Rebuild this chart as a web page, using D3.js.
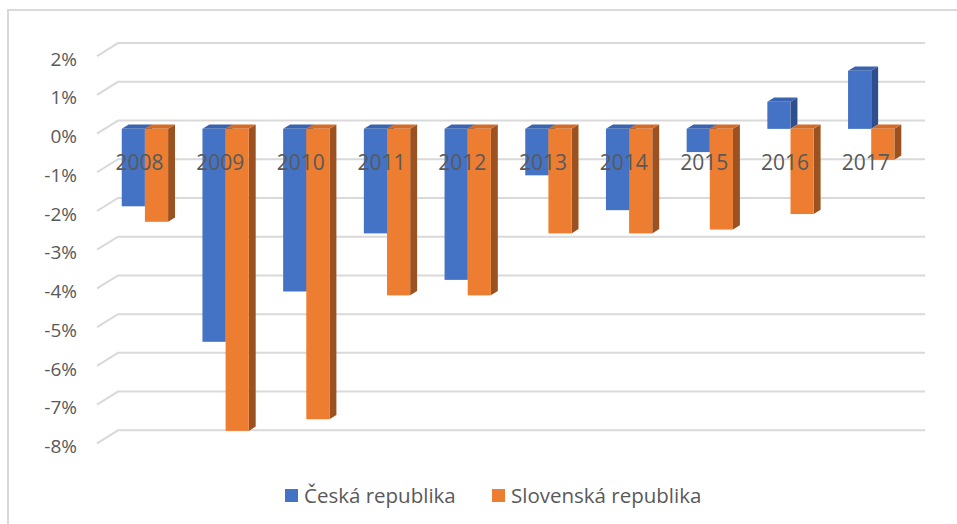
<!DOCTYPE html>
<html lang="cs">
<head>
    <meta charset="UTF-8">
    <title>Česká a Slovenská republika</title>
    <script src="https://d3js.org/d3.v7.min.js"></script>
    <style>
        body {
            margin: 0;
            background: #ffffff;
            font-family: "Open Sans", Arial, sans-serif;
        }
        .tick-label {
            font-size: 19px;
            fill: #595959;
        }
        .cat-label {
            font-size: 21px;
            fill: #595959;
        }
        .legend-label {
            font-size: 20.5px;
            fill: #595959;
        }
    </style>
</head>
<body>
<svg id="chart"></svg>

<script>
    const width = 957, height = 524;

    // data
    const years = ["2008", "2009", "2010", "2011", "2012", "2013", "2014", "2015", "2016", "2017"];
    const seriesNames = ["Česká republika", "Slovenská republika"];
    const czValues = [-2.0, -5.5, -4.2, -2.7, -3.9, -1.2, -2.1, -0.6, 0.7, 1.5];
    const skValues = [-2.4, -7.8, -7.5, -4.3, -4.3, -2.7, -2.7, -2.6, -2.2, -0.8];
    const tickValues = [2, 1, 0, -1, -2, -3, -4, -5, -6, -7, -8];

    const colors = ["#4472C4", "#ED7D31"];
    const topColors = ["#3B64B0", "#D46C27"];
    const sideColors = ["#2E4F8C", "#9C5220"];

    const svg = d3.select("#chart")
        .attr("width", width)
        .attr("height", height);

    // frame
    svg.append("path")
        .attr("d", "M8,524 V10 H957")
        .attr("fill", "none")
        .attr("stroke", "#d9d9d9")
        .attr("stroke-width", 2);

    // back wall scales
    const x = d3.scaleBand()
        .domain(years)
        .range([118, 925])
        .paddingInner(0.426)
        .paddingOuter(0.213);

    const xs = d3.scaleBand()
        .domain(seriesNames)
        .range([0, x.bandwidth()]);

    const y = d3.scaleLinear()
        .domain([-8, 2])
        .range([430.3, 43.1]);

    // depth of the floor, from back wall to the front edge
    const depth = { dx: -21, dy: 13 };
    const frontF = 0.64, backF = 0.31;
    const fx = depth.dx * frontF, fy = depth.dy * frontF;
    const sx = depth.dx * (backF - frontF), sy = depth.dy * (backF - frontF);

    // gridlines: back wall + side wall
    const grid = svg.append("g");
    tickValues.forEach(v => {
        grid.append("path")
            .attr("d", `M${118 + depth.dx},${y(v) + depth.dy} L118,${y(v)} H925`)
            .attr("fill", "none")
            .attr("stroke", "#d9d9d9")
            .attr("stroke-width", 2);
    });

    // y tick labels
    svg.append("g")
        .selectAll("text")
        .data(tickValues)
        .join("text")
        .attr("class", "tick-label")
        .attr("x", 77)
        .attr("y", d => y(d) + depth.dy + 3)
        .attr("dy", "0.35em")
        .attr("text-anchor", "end")
        .text(d => d + "%");

    // bars
    const bars = svg.append("g");
    years.forEach((yr, i) => {
        [czValues[i], skValues[i]].forEach((v, s) => {
            const x0 = x(yr) + xs(seriesNames[s]) + fx;
            const w = xs.bandwidth();
            const yTop = Math.min(y(v), y(0)) + fy;
            const yBot = Math.max(y(v), y(0)) + fy;
            const g = bars.append("g");
            // side face
            g.append("path")
                .attr("d", `M${x0 + w},${yTop} L${x0 + w + sx},${yTop + sy} L${x0 + w + sx},${yBot + sy} L${x0 + w},${yBot} Z`)
                .attr("fill", sideColors[s]);
            // top face
            g.append("path")
                .attr("d", `M${x0},${yTop} L${x0 + sx},${yTop + sy} L${x0 + w + sx},${yTop + sy} L${x0 + w},${yTop} Z`)
                .attr("fill", topColors[s]);
            // front face
            g.append("rect")
                .attr("x", x0)
                .attr("y", yTop)
                .attr("width", w)
                .attr("height", yBot - yTop)
                .attr("fill", colors[s]);
        });
    });

    // category labels
    svg.append("g")
        .selectAll("text")
        .data(years)
        .join("text")
        .attr("class", "cat-label")
        .attr("x", d => x(d) + x.bandwidth() / 2 + depth.dx * 0.9)
        .attr("y", y(0) + 42)
        .attr("dy", "0.35em")
        .attr("text-anchor", "middle")
        .text(d => d);

    // legend
    const legendX = [285, 492];
    const legend = svg.append("g");
    seriesNames.forEach((name, s) => {
        legend.append("rect")
            .attr("x", legendX[s])
            .attr("y", 489)
            .attr("width", 13)
            .attr("height", 13)
            .attr("fill", colors[s]);
        legend.append("text")
            .attr("class", "legend-label")
            .attr("x", legendX[s] + 19)
            .attr("y", 495.5)
            .attr("dy", "0.35em")
            .text(name);
    });
</script>
</body>
</html>
